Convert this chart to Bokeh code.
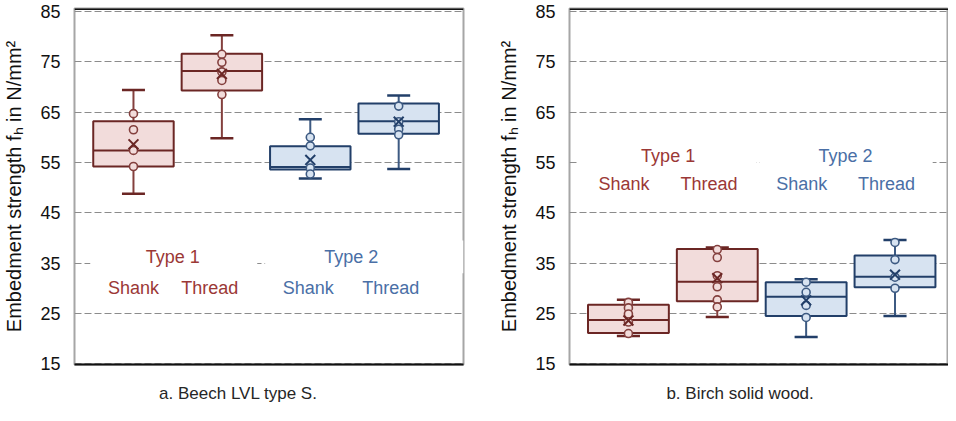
import numpy as np
from bokeh.plotting import figure
from bokeh.layouts import row
from bokeh.models import FixedTicker, Span, Range1d
from bokeh.core.properties import value
from bokeh.embed import file_html
from bokeh.resources import INLINE

# ---------------- data ----------------
positions = [1, 2, 3, 4]
groups = ["Type 1", "Type 1", "Type 2", "Type 2"]
parts = ["Shank", "Thread", "Shank", "Thread"]

# panel a: Beech LVL type S
a_lo = [48.8, 59.8, 51.8, 53.7]
a_q1 = [54.2, 69.3, 53.6, 60.7]
a_med = [57.4, 73.2, 54.1, 63.2]
a_q3 = [63.2, 76.6, 58.2, 66.7]
a_hi = [69.4, 80.3, 63.6, 68.3]
a_mean = [58.6, 72.6, 55.5, 63.1]
a_pts = [[64.7, 61.5, 57.4, 54.2],
         [76.5, 74.9, 73.0, 71.3, 68.5],
         [60.0, 58.3, 53.9, 52.7],
         [66.2, 63.1, 61.6, 60.5]]

# panel b: Birch solid wood
b_lo = [20.5, 24.3, 20.3, 24.5]
b_q1 = [21.1, 27.4, 24.5, 30.2]
b_med = [23.7, 31.3, 28.3, 32.3]
b_q3 = [26.7, 37.8, 31.2, 36.5]
b_hi = [27.7, 38.1, 31.8, 39.6]
b_mean = [23.6, 32.0, 27.6, 32.7]
b_pts = [[27.2, 26.1, 24.9, 23.3, 21.0],
         [37.7, 36.1, 32.5, 30.3, 27.7, 26.3],
         [31.2, 29.2, 26.6, 24.2],
         [39.1, 35.7, 32.2, 30.0]]

y_ticks = [15, 25, 35, 45, 55, 65, 75, 85]
y_label = "Embedment strength f\u2095 in N/mm\u00b2"
captions = ["a. Beech LVL type S.", "b. Birch solid wood."]

# ---------------- style ----------------
FONT = value("Liberation Sans")
fills = ["#f2dcdb", "#f2dcdb", "#d7e3f1", "#d7e3f1"]
edges = ["#6b2624", "#6b2624", "#223f69", "#223f69"]
whisk = ["#84403e", "#84403e", "#3d5a82", "#3d5a82"]
txt_col = {"Type 1": "#9b3836", "Type 2": "#4a6fa6"}

BOXW = 0.91
CAPW = 0.13
Y0, Y1 = 14.85, 85.6
NBSP = "\u00a0"


def panel(lo, q1, med, q3, hi, mean, pts, x_start, x_end, width, bl, br,
          lab_layout, covers, caption, pad):
    p = figure(width=width, height=405, output_backend="svg", toolbar_location=None,
               x_range=Range1d(x_start, x_end), y_range=Range1d(Y0, Y1),
               min_border_left=bl, min_border_right=br, min_border_top=8,
               min_border_bottom=40)
    p.background_fill_color = "white"
    p.border_fill_color = "white"
    p.outline_line_color = "#a6a6a6"
    p.outline_line_width = 2

    p.xgrid.visible = False
    p.ygrid.ticker = FixedTicker(ticks=y_ticks)
    p.ygrid.grid_line_color = "#8c8c8c"
    p.ygrid.grid_line_dash = "7 3"
    p.ygrid.grid_line_width = 1

    p.yaxis.ticker = FixedTicker(ticks=y_ticks)
    p.yaxis.axis_line_color = None
    p.yaxis.major_tick_line_color = None
    p.yaxis.minor_tick_line_color = None
    p.yaxis.major_label_text_font = "Liberation Sans"
    p.yaxis.major_label_text_font_size = "18px"
    p.yaxis.major_label_text_color = "#111111"
    p.yaxis.major_label_standoff = 8
    p.yaxis.axis_label = y_label
    p.yaxis.axis_label_text_font = "Liberation Sans"
    p.yaxis.axis_label_text_font_size = "20px"
    p.yaxis.axis_label_text_font_style = "normal"
    p.yaxis.axis_label_text_color = "#111111"
    p.yaxis.axis_label_standoff = 12

    # x axis: only the black base line, with the panel caption as its label
    p.xaxis.ticker = FixedTicker(ticks=[])
    p.xaxis.major_tick_line_color = None
    p.xaxis.minor_tick_line_color = None
    p.xaxis.major_tick_out = 0
    p.xaxis.major_tick_in = 0
    p.xaxis.major_label_text_font_size = "0px"
    p.xaxis.major_label_standoff = 0
    p.xaxis.axis_line_color = "#111111"
    p.xaxis.axis_line_width = 2
    p.xaxis.axis_label = caption + NBSP * pad
    p.xaxis.axis_label_standoff = 19
    p.xaxis.axis_label_text_font = "Liberation Sans"
    p.xaxis.axis_label_text_font_size = "17px"
    p.xaxis.axis_label_text_font_style = "normal"
    p.xaxis.axis_label_text_color = "#262626"

    p.add_layout(Span(location=Y1, dimension="width", line_color="#111111", line_width=3))

    # white boxes behind the label texts (hide the gridline)
    for (l, r, b, t) in covers:
        p.quad(left=[l], right=[r], bottom=[b], top=[t], fill_color="white", line_color=None)

    pos = np.array(positions, dtype=float)
    # whiskers
    p.segment(x0=pos, x1=pos, y0=hi, y1=q3, line_color=whisk, line_width=2)
    p.segment(x0=pos, x1=pos, y0=lo, y1=q1, line_color=whisk, line_width=2)
    p.segment(x0=pos - CAPW, x1=pos + CAPW, y0=hi, y1=hi, line_color=edges, line_width=2.5)
    p.segment(x0=pos - CAPW, x1=pos + CAPW, y0=lo, y1=lo, line_color=edges, line_width=2.5)
    # boxes
    p.vbar(x=pos, top=q3, bottom=q1, width=BOXW, fill_color=fills, line_color=edges, line_width=2)
    p.segment(x0=pos - BOXW / 2, x1=pos + BOXW / 2, y0=med, y1=med, line_color=edges, line_width=2)
    # points
    px, py, pf, pc = [], [], [], []
    for i, vals in enumerate(pts):
        for v in vals:
            px.append(positions[i]); py.append(v); pf.append(fills[i]); pc.append(whisk[i])
    p.scatter(x=px, y=py, marker="circle", size=8, fill_color=pf, line_color=pc, line_width=1.6)
    # means
    p.scatter(x=positions, y=mean, marker="x", size=14, line_color=edges, line_width=2)

    # labels
    tx, ty, tt, tc = [], [], [], []
    for (x, y, t, g) in lab_layout:
        tx.append(x); ty.append(y); tt.append(t); tc.append(txt_col[g])
    p.text(x=tx, y=ty, text=tt, text_color=tc, text_font=FONT, text_font_size="18px",
           text_align="center", text_baseline="middle")
    return p


# label layout (x, y, text, group)
lab_a = [(1.444, 36.2, groups[0], groups[0]), (3.463, 36.2, groups[2], groups[2]),
         (1.0, 30.1, parts[0], groups[0]), (1.863, 30.1, parts[1], groups[1]),
         (2.978, 30.1, parts[2], groups[2]), (3.911, 30.1, parts[3], groups[3])]
cov_a = [(0.511, 2.40, 33.0, 39.5), (2.489, 4.733, 33.0, 39.5)]

lab_b = [(1.447, 56.3, groups[0], groups[0]), (3.444, 56.3, groups[2], groups[2]),
         (0.95, 50.8, parts[0], groups[0]), (1.907, 50.8, parts[1], groups[1]),
         (2.95, 50.8, parts[2], groups[2]), (3.904, 50.8, parts[3], groups[3])]
cov_b = [(0.426, 2.442, 53.0, 59.5), (2.475, 4.424, 53.0, 59.5)]

pa = panel(a_lo, a_q1, a_med, a_q3, a_hi, a_mean, a_pts, 0.333, 4.733, 495, 67, 32,
           lab_a, cov_a, captions[0], 13)
pb = panel(b_lo, b_q1, b_med, b_q3, b_hi, b_mean, b_pts, 0.337, 4.602, 453, 70, 0,
           lab_b, cov_b, captions[1], 8)

layout = row(pa, pb, spacing=0)
open("out.html", "w").write(file_html(layout, INLINE))
